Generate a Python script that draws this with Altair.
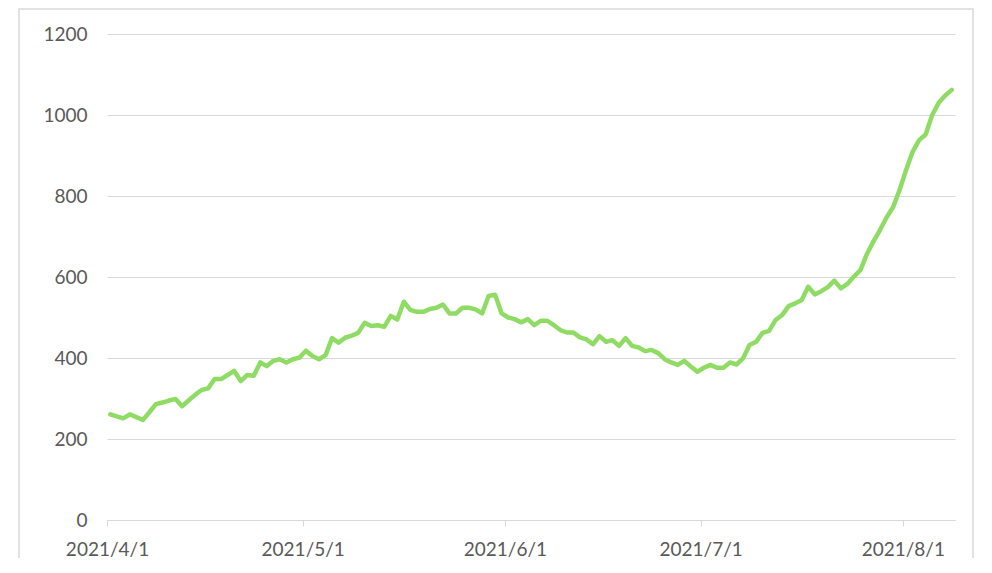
import altair as alt
import pandas as pd

# Daily values from 2021/4/1 (day 0) to 2021/8/8 (day 129)
values = [
    261, 256, 251, 261, 254, 247, 266, 286, 290, 295,
    299, 281, 295, 309, 321, 325, 348, 348, 358, 368,
    343, 358, 356, 389, 380, 393, 397, 389, 397, 401,
    418, 405, 397, 407, 449, 438, 450, 455, 462, 487,
    479, 481, 477, 504, 495, 539, 519, 514, 514, 521,
    524, 532, 510, 510, 524, 524, 520, 510, 553, 556,
    510, 500, 496, 488, 496, 481, 492, 492, 481, 469,
    463, 463, 451, 446, 434, 454, 440, 444, 430, 449,
    430, 426, 417, 420, 412, 397, 389, 383, 393, 379,
    366, 376, 383, 376, 376, 389, 384, 399, 432, 440,
    462, 467, 494, 506, 528, 535, 543, 576, 557, 565,
    575, 591, 572, 583, 601, 617, 657, 688, 716, 747,
    772, 815, 864, 909, 938, 952, 1000, 1030, 1048, 1062,
]
tick_days = [0, 30, 61, 91, 122]
tick_labels = ["2021/4/1", "2021/5/1", "2021/6/1", "2021/7/1", "2021/8/1"]
y_ticks = [0, 200, 400, 600, 800, 1000, 1200]

df = pd.DataFrame({"day": [i + 0.5 for i in range(len(values))], "value": values})

label_expr = "''"
for d, lab in reversed(list(zip(tick_days, tick_labels))):
    label_expr = f"datum.value == {d} ? '{lab}' : ({label_expr})"

FONT = "Lato"
GRID = "#d9d9d9"
LABEL = "#595959"

line = alt.Chart(df).mark_line(color="#8fdc64", strokeWidth=4.5, strokeJoin="round", strokeCap="round").encode(
    x=alt.X("day:Q", scale=alt.Scale(domain=[0, 130], nice=False, zero=False),
            axis=alt.Axis(values=tick_days, labelExpr=label_expr, title=None, grid=False,
                          domain=True, domainColor=GRID, domainWidth=1,
                          ticks=True, tickColor=GRID, tickSize=6, tickWidth=1,
                          labelFont=FONT, labelFontSize=19, labelColor=LABEL,
                          labelPadding=14, labelFlush=False)),
    y=alt.Y("value:Q", scale=alt.Scale(domain=[0, 1200], nice=False),
            axis=alt.Axis(values=y_ticks, format="d", title=None, grid=True, gridColor=GRID, gridWidth=1,
                          domain=False, ticks=False,
                          labelFont=FONT, labelFontSize=19, labelColor=LABEL,
                          labelPadding=20)),
)

border = alt.Chart(alt.Data(values=[{}])).mark_rect(
    fillOpacity=0, stroke=GRID, strokeWidth=1.5, clip=False
).encode(
    x=alt.value(-88), x2=alt.value(866), y=alt.value(-25), y2=alt.value(560)
)

chart = alt.layer(border, line).properties(
    width=848, height=486,
    padding={"left": 99, "top": 26, "right": 20, "bottom": 38},
    autosize=alt.AutoSizeParams(type="none"),
).configure_view(stroke=None)

chart.save("out.html", embed_options={"renderer": "svg", "actions": False})
